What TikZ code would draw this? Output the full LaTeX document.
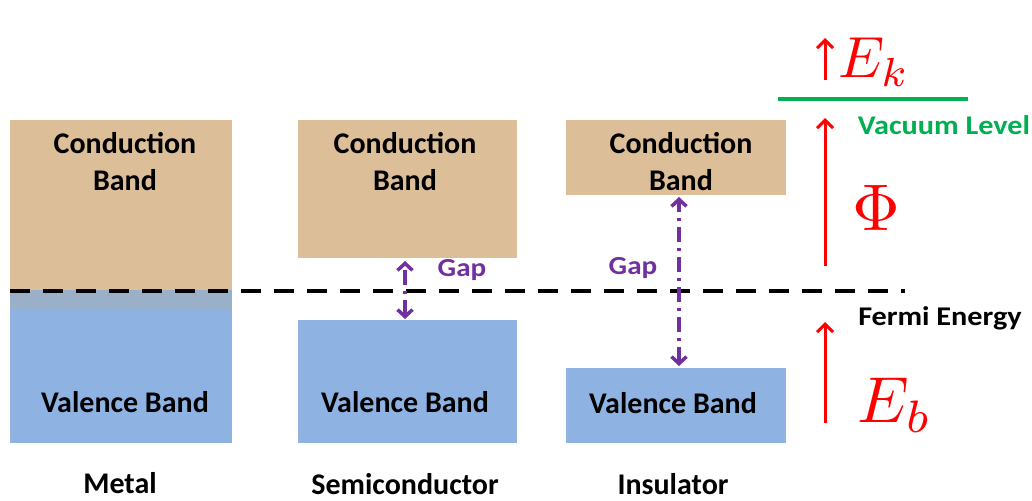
\documentclass[tikz,border=0pt]{standalone}
\usepackage{fontspec}
\setmainfont{Carlito}
\usetikzlibrary{arrows.meta}
\definecolor{tanfill}{HTML}{DCBE98}
\definecolor{bluefill}{HTML}{8EB3E3}
\definecolor{mixfill}{HTML}{9AAFC8}
\definecolor{gappurple}{HTML}{7030A0}
\definecolor{vacgreen}{HTML}{00B050}
\begin{document}
\begin{tikzpicture}[x=1pt,y=-1pt,
  cband/.style={fill=tanfill, draw=none, inner sep=0pt, outer sep=0pt, anchor=north west},
  vband/.style={fill=bluefill, draw=none, inner sep=0pt, outer sep=0pt, anchor=north west},
  lbl/.style={font=\fontsize{30}{37}\selectfont\bfseries, text=black, align=center, inner sep=0pt},
  gaplbl/.style={font=\fontsize{26}{28}\selectfont\bfseries, text=gappurple, inner sep=0pt, xscale=1.12},
  sidelbl/.style={font=\fontsize{27}{30}\selectfont\bfseries, inner sep=0pt, xscale=1.12},
  fermi/.style={line width=4pt, dash pattern=on 20pt off 13pt},
  gaparrow/.style={gappurple, line width=3.5pt, dash pattern=on 15pt off 6pt on 3pt off 6pt,
    {Straight Barb[length=7pt,width=15pt,line width=3.5pt]}-{Straight Barb[length=7pt,width=15pt,line width=3.5pt]}},
  redarrow/.style={red, line width=3pt, -{Straight Barb[length=8pt,width=16pt,line width=3pt]}},
  redmath/.style={text=red, inner sep=0pt}
]
\useasboundingbox (0,0) rectangle (1032,500);
% Metal
\node[cband, minimum width=222pt, minimum height=190pt] (mcb) at (10,120) {};
\node[vband, minimum width=222pt, minimum height=153pt] (mvb) at (10,290) {};
\node[fill=mixfill, draw=none, inner sep=0pt, anchor=north west, minimum width=222pt, minimum height=20pt] (mmix) at (10,290) {};
% Semiconductor
\node[cband, minimum width=219pt, minimum height=138pt] (scb) at (298,120) {};
\node[vband, minimum width=219pt, minimum height=123pt] (svb) at (298,320) {};
% Insulator
\node[cband, minimum width=220pt, minimum height=75pt] (icb) at (566,120) {};
\node[vband, minimum width=220pt, minimum height=75pt] (ivb) at (566,368) {};
% texts
\node[lbl] (mct) at (125,162) {Conduction\\Band};
\node[lbl] (sct) at (405,162) {Conduction\\Band};
\node[lbl] (ict) at (681,162) {Conduction\\Band};
\node[lbl] (mvt) at (125,402) {Valence Band};
\node[lbl] (svt) at (405,402) {Valence Band};
\node[lbl] (ivt) at (673,403) {Valence Band};
\node[lbl] (metal) at (120,483) {Metal};
\node[lbl] (semi) at (405,484) {Semiconductor};
\node[lbl] (ins) at (673,484) {Insulator};
% Fermi line
\coordinate (fl) at (10,291);
\coordinate (fr) at (905,291);
\draw[fermi] (fl) -- (fr);
% gap arrows
\path (svb.north -| 405,0) ++(0,-1) coordinate (sg1) (scb.south -| 405,0) ++(0,3) coordinate (sg2);
\draw[gaparrow] (sg1) -- (sg2);
\path (ivb.north -| 679,0) ++(0,-2) coordinate (ig1) (icb.south -| 679,0) ++(0,2) coordinate (ig2);
\draw[gaparrow] (ig1) -- (ig2);
\node[gaplbl] (sgap) at (462,270) {Gap};
\node[gaplbl] (igap) at (633,268) {Gap};
% vacuum level
\coordinate (vl) at (778,99);
\coordinate (vr) at (968,99);
\draw[vacgreen, line width=4pt] (vl) -- (vr);
\node[sidelbl, text=vacgreen] (vac) at (944,125) {Vacuum Level};
\node[sidelbl, text=black] (fe) at (940,318) {Fermi Energy};
% red arrows
\coordinate (ek0) at (825,80); \coordinate (ek1) at (825,38);
\coordinate (ph0) at (825,266); \coordinate (ph1) at (825,118);
\coordinate (eb0) at (825,423); \coordinate (eb1) at (825,322);
\draw[redarrow] (ek0) -- (ek1);
\draw[redarrow] (ph0) -- (ph1);
\draw[redarrow] (eb0) -- (eb1);
\node[redmath, scale=5.8] (ek) at (874,62) {$E_k$};
\node[redmath, scale=6.6] (phi) at (876,208) {$\Phi$};
\node[redmath, scale=6.5] (eb) at (895,405) {$E_b$};
\end{tikzpicture}
\end{document}
